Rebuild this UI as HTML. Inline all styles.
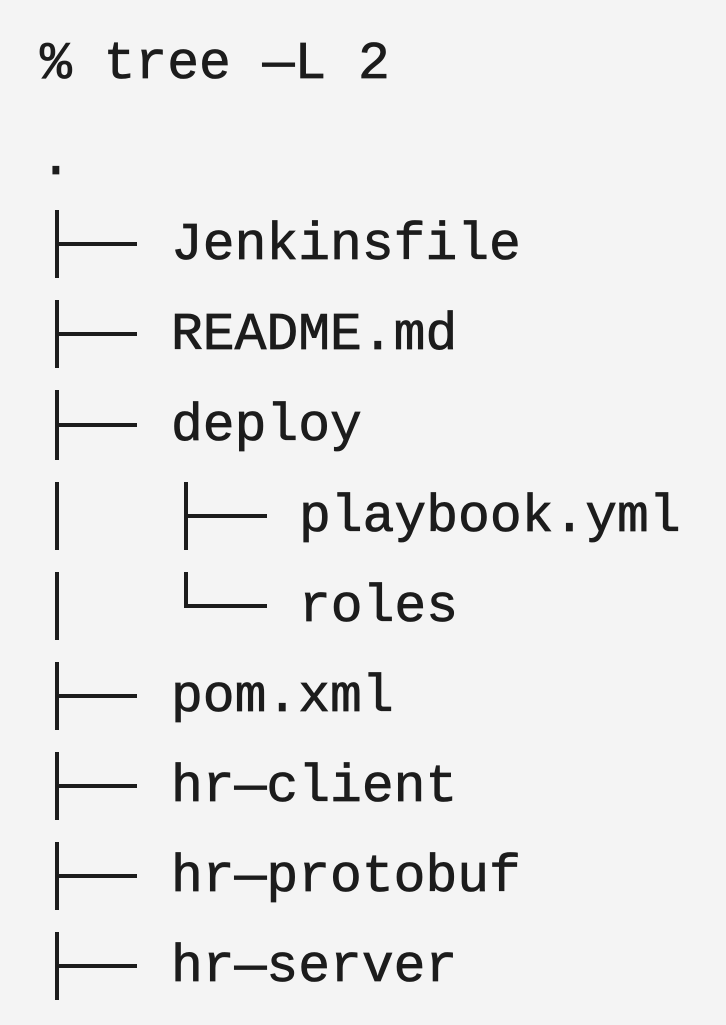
<!DOCTYPE html>
<html><head><style>
html,body{margin:0;padding:0}
body{width:726px;height:1025px;background:#f4f4f4;position:relative;overflow:hidden;font-family:"Liberation Mono",monospace;color:#1c1c1c}
.t{position:absolute;font-size:53px;line-height:1;white-space:pre;-webkit-text-stroke:0.8px #1c1c1c}
.v{position:absolute;width:4px;background:#1c1c1c}
.h{position:absolute;height:4px;background:#1c1c1c}
</style></head><body>
<div class="t" style="left:40px;top:38px">% tree —L 2</div>
<div class="t" style="left:40px;top:134px">.</div>

<div class="v" style="left:55px;top:210px;height:68px"></div><div class="h" style="left:55px;top:242px;width:82px"></div>
<div class="t" style="left:171px;top:219px">Jenkinsfile</div>

<div class="v" style="left:55px;top:300px;height:68px"></div><div class="h" style="left:55px;top:332px;width:82px"></div>
<div class="t" style="left:171px;top:309px">README.md</div>

<div class="v" style="left:55px;top:390px;height:70px"></div><div class="h" style="left:55px;top:423px;width:82px"></div>
<div class="t" style="left:171px;top:400px">deploy</div>

<div class="v" style="left:55px;top:482px;height:68px"></div>
<div class="v" style="left:184px;top:482px;height:68px"></div><div class="h" style="left:184px;top:514px;width:83px"></div>
<div class="t" style="left:299px;top:491px">playbook.yml</div>

<div class="v" style="left:55px;top:572px;height:68px"></div>
<div class="v" style="left:184px;top:572px;height:36px"></div><div class="h" style="left:184px;top:604px;width:83px"></div>
<div class="t" style="left:299px;top:581px">roles</div>

<div class="v" style="left:55px;top:662px;height:68px"></div><div class="h" style="left:55px;top:694px;width:82px"></div>
<div class="t" style="left:171px;top:671px">pom.xml</div>

<div class="v" style="left:55px;top:752px;height:68px"></div><div class="h" style="left:55px;top:784px;width:82px"></div>
<div class="t" style="left:171px;top:761px">hr—client</div>

<div class="v" style="left:55px;top:842px;height:68px"></div><div class="h" style="left:55px;top:874px;width:82px"></div>
<div class="t" style="left:171px;top:851px">hr—protobuf</div>

<div class="v" style="left:55px;top:932px;height:68px"></div><div class="h" style="left:55px;top:964px;width:82px"></div>
<div class="t" style="left:171px;top:941px">hr—server</div>
</body></html>
